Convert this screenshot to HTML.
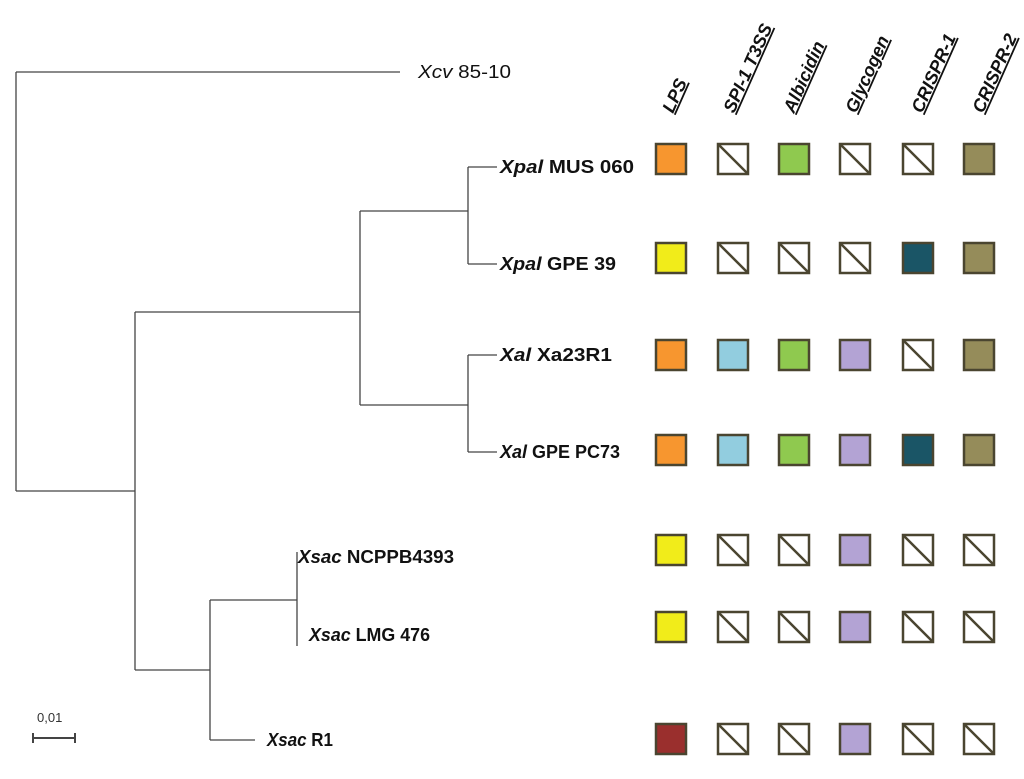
<!DOCTYPE html><html><head><style>body{margin:0;background:#fff}</style></head><body>
<svg width="1024" height="774" xmlns="http://www.w3.org/2000/svg" font-family="Liberation Sans, sans-serif">
<g stroke="#444" stroke-width="1.3" fill="none">
<path d="M16 72V491M16 72H400M16 491H135M135 312V670M135 312H360M360 211V405M360 211H468M360 405H468M468 167V264M468 167H497M468 264H497M468 355V452M468 355H497M468 452H497M135 670H210M210 600V740M210 600H297M210 740H255M297 552V646"/>
<path d="M33 738H75M33 733V743M75 733V743" stroke-width="2"/>
</g>
<text x="37" y="722" font-size="13" fill="#333">0,01</text>
<g font-size="18" fill="#111" lengthAdjust="spacingAndGlyphs">
<text x="418" y="78" textLength="93" lengthAdjust="spacingAndGlyphs"><tspan font-style="italic">Xcv</tspan> 85-10</text>
<g font-weight="bold">
<text x="500" y="173" textLength="134" lengthAdjust="spacingAndGlyphs"><tspan font-style="italic">Xpal</tspan> MUS 060</text>
<text x="500" y="270" textLength="116" lengthAdjust="spacingAndGlyphs"><tspan font-style="italic">Xpal</tspan> GPE 39</text>
<text x="500" y="361" textLength="112" lengthAdjust="spacingAndGlyphs"><tspan font-style="italic">Xal</tspan> Xa23R1</text>
<text x="500" y="458" textLength="120" lengthAdjust="spacingAndGlyphs"><tspan font-style="italic">Xal</tspan> GPE PC73</text>
<text x="298" y="563" textLength="156" lengthAdjust="spacingAndGlyphs"><tspan font-style="italic">Xsac</tspan> NCPPB4393</text>
<text x="309" y="641" textLength="121" lengthAdjust="spacingAndGlyphs"><tspan font-style="italic">Xsac</tspan> LMG 476</text>
<text x="267" y="746" textLength="66" lengthAdjust="spacingAndGlyphs"><tspan font-style="italic">Xsac</tspan> R1</text>
</g></g>
<g font-size="18" font-weight="bold" font-style="italic" text-decoration="underline" fill="#111">
<text transform="translate(673,114) rotate(-66)">LPS</text>
<text transform="translate(734,114) rotate(-66)">SPI-1 T3SS</text>
<text transform="translate(794,114) rotate(-66)">Albicidin</text>
<text transform="translate(856,114) rotate(-66)">Glycogen</text>
<text transform="translate(922,114) rotate(-66)">CRISPR-1</text>
<text transform="translate(983,114) rotate(-66)">CRISPR-2</text>
</g>
<defs>
<g id="n"><rect width="30" height="30" fill="#fff" stroke="#4a4530" stroke-width="2.5"/><path d="M0 0L30 30" stroke="#4a4530" stroke-width="2.5"/></g>
</defs>
<g stroke="#4a4530" stroke-width="2.5">
<rect x="656" y="144" width="30" height="30" fill="#f7962f"/><use href="#n" x="718" y="144"/><rect x="779" y="144" width="30" height="30" fill="#8fc94f"/><use href="#n" x="840" y="144"/><use href="#n" x="903" y="144"/><rect x="964" y="144" width="30" height="30" fill="#958c5a"/>
<rect x="656" y="243" width="30" height="30" fill="#f1ec1a"/><use href="#n" x="718" y="243"/><use href="#n" x="779" y="243"/><use href="#n" x="840" y="243"/><rect x="903" y="243" width="30" height="30" fill="#1a5566"/><rect x="964" y="243" width="30" height="30" fill="#958c5a"/>
<rect x="656" y="340" width="30" height="30" fill="#f7962f"/><rect x="718" y="340" width="30" height="30" fill="#92cddf"/><rect x="779" y="340" width="30" height="30" fill="#8fc94f"/><rect x="840" y="340" width="30" height="30" fill="#b3a3d4"/><use href="#n" x="903" y="340"/><rect x="964" y="340" width="30" height="30" fill="#958c5a"/>
<rect x="656" y="435" width="30" height="30" fill="#f7962f"/><rect x="718" y="435" width="30" height="30" fill="#92cddf"/><rect x="779" y="435" width="30" height="30" fill="#8fc94f"/><rect x="840" y="435" width="30" height="30" fill="#b3a3d4"/><rect x="903" y="435" width="30" height="30" fill="#1a5566"/><rect x="964" y="435" width="30" height="30" fill="#958c5a"/>
<rect x="656" y="535" width="30" height="30" fill="#f1ec1a"/><use href="#n" x="718" y="535"/><use href="#n" x="779" y="535"/><rect x="840" y="535" width="30" height="30" fill="#b3a3d4"/><use href="#n" x="903" y="535"/><use href="#n" x="964" y="535"/>
<rect x="656" y="612" width="30" height="30" fill="#f1ec1a"/><use href="#n" x="718" y="612"/><use href="#n" x="779" y="612"/><rect x="840" y="612" width="30" height="30" fill="#b3a3d4"/><use href="#n" x="903" y="612"/><use href="#n" x="964" y="612"/>
<rect x="656" y="724" width="30" height="30" fill="#9a2f2d"/><use href="#n" x="718" y="724"/><use href="#n" x="779" y="724"/><rect x="840" y="724" width="30" height="30" fill="#b3a3d4"/><use href="#n" x="903" y="724"/><use href="#n" x="964" y="724"/>
</g>
</svg>
</body></html>
